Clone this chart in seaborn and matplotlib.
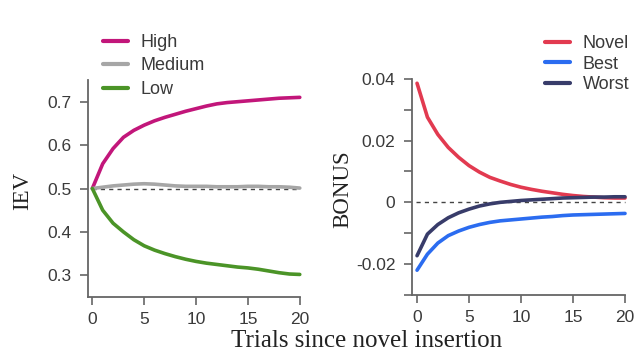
import numpy as np
import pandas as pd
import seaborn as sns
import matplotlib.pyplot as plt

trials = list(range(21))

# IEV per item type
iev_high = [0.500, 0.557, 0.592, 0.618, 0.634, 0.646, 0.656, 0.664, 0.671, 0.678, 0.684,
            0.690, 0.695, 0.698, 0.700, 0.702, 0.704, 0.706, 0.708, 0.709, 0.710]
iev_medium = [0.500, 0.503, 0.506, 0.508, 0.510, 0.511, 0.510, 0.508, 0.506, 0.505, 0.505,
              0.505, 0.504, 0.504, 0.504, 0.505, 0.505, 0.504, 0.504, 0.503, 0.501]
iev_low = [0.500, 0.450, 0.420, 0.400, 0.382, 0.368, 0.358, 0.350, 0.343, 0.337, 0.332,
           0.328, 0.325, 0.322, 0.319, 0.317, 0.314, 0.310, 0.306, 0.303, 0.302]

# BONUS per option
bonus_novel = [0.0386, 0.0276, 0.0220, 0.0178, 0.0146, 0.0119, 0.0098, 0.0081, 0.0069, 0.0058, 0.0049,
               0.0042, 0.0036, 0.0031, 0.0026, 0.0022, 0.0019, 0.0017, 0.0015, 0.0014, 0.0014]
bonus_best = [-0.0220, -0.0168, -0.0132, -0.0108, -0.0093, -0.0081, -0.0072, -0.0065, -0.0060, -0.0057, -0.0054,
              -0.0051, -0.0048, -0.0046, -0.0043, -0.0041, -0.0040, -0.0039, -0.0038, -0.0037, -0.0036]
bonus_worst = [-0.0173, -0.0103, -0.0072, -0.0050, -0.0034, -0.0022, -0.0012, -0.0005, 0.0000, 0.0003, 0.0006,
               0.0008, 0.0010, 0.0012, 0.0014, 0.0015, 0.0016, 0.0017, 0.0017, 0.0018, 0.0018]

sns.set_theme(style="white")
plt.rcParams['font.family'] = ['Liberation Sans', 'DejaVu Sans']

df_iev = pd.DataFrame({'trial': trials * 3,
                       'IEV': iev_high + iev_medium + iev_low,
                       'type': ['High'] * 21 + ['Medium'] * 21 + ['Low'] * 21})
df_bonus = pd.DataFrame({'trial': trials * 3,
                         'BONUS': bonus_novel + bonus_best + bonus_worst,
                         'type': ['Novel'] * 21 + ['Best'] * 21 + ['Worst'] * 21})

iev_colors = {'High': '#c2167a', 'Medium': '#a6a6a6', 'Low': '#4b9427'}
bonus_colors = {'Novel': '#e23a50', 'Best': '#2b6cf0', 'Worst': '#383c6a'}

fig = plt.figure(figsize=(6.39, 3.54), dpi=100)
ax1 = fig.add_axes([0.138, 0.161, 0.336, 0.613])
ax2 = fig.add_axes([0.645, 0.167, 0.338, 0.610])

tick_color = '#3a3a3a'
spine_color = '#666666'
serif = ['Liberation Serif', 'DejaVu Serif']


def style_axis(ax, xlim, ylim):
    ax.set_xlim(*xlim)
    ax.set_ylim(*ylim)
    for side in ['top', 'right']:
        ax.spines[side].set_visible(False)
    for side in ['left', 'bottom']:
        ax.spines[side].set_color(spine_color)
        ax.spines[side].set_linewidth(1.3)
    ax.spines['bottom'].set_bounds(xlim[0], 20)
    ax.set_xticks([0, 5, 10, 15, 20])
    ax.tick_params(axis='both', direction='out', length=6, width=1.2, color=spine_color,
                   labelsize=12.5, labelcolor=tick_color, left=True, bottom=True)
    ax.tick_params(axis='x', pad=5)
    ax.tick_params(axis='y', pad=6)
    ax.set_xlabel('')


# left panel: IEV
ax1.axhline(0.5, color='#444444', linestyle=(0, (3, 3)), linewidth=1.0, xmin=0.02, xmax=0.985)
sns.lineplot(data=df_iev, x='trial', y='IEV', hue='type', palette=iev_colors,
             linewidth=2.6, ax=ax1, legend=False)
style_axis(ax1, (-0.4, 20.3), (0.25, 0.75))
ax1.set_yticks([0.3, 0.4, 0.5, 0.6, 0.7])
ax1.set_yticklabels(['0.3', '0.4', '0.5', '0.6', '0.7'])
ax1.set_ylabel('IEV', family=serif, fontsize=16.5, color='#222222')
ax1.yaxis.set_label_coords(-0.258, 0.49)

# right panel: BONUS
ax2.axhline(0.0, color='#444444', linestyle=(0, (3, 3)), linewidth=1.0, xmin=0.02, xmax=0.985)
sns.lineplot(data=df_bonus, x='trial', y='BONUS', hue='type', palette=bonus_colors,
             linewidth=2.6, ax=ax2, legend=False)
style_axis(ax2, (-0.47, 20.3), (-0.03, 0.04))
ax2.set_yticks([-0.03, -0.02, -0.01, 0, 0.01, 0.02, 0.03, 0.04])
ax2.set_yticklabels(['', '-0.02', '', '0', '', '0.02', '', '0.04'])
ax2.set_ylabel('BONUS', family=serif, fontsize=16.5, color='#222222')
ax2.yaxis.set_label_coords(-0.274, 0.49)


# legends
def add_legend(colors, anchor, spacing):
    handles = [plt.Line2D([], [], color=c, linewidth=3) for c in colors.values()]
    leg = fig.legend(handles, list(colors.keys()), loc='upper left', bbox_to_anchor=anchor,
                     frameon=False, fontsize=13, handlelength=1.4, handletextpad=0.7,
                     labelspacing=spacing, borderpad=0, borderaxespad=0)
    for t in leg.get_texts():
        t.set_color(tick_color)


add_legend(iev_colors, (103 / 639, 1 - 34 / 354), 0.36)
add_legend(bonus_colors, (545 / 639, 1 - 35 / 354), 0.2)

fig.text(367 / 639, 1 - 341 / 354, 'Trials since novel insertion', ha='center', va='center',
         family=serif, fontsize=18, color='#222222')

fig.savefig('out.png', dpi=100, facecolor='white')
